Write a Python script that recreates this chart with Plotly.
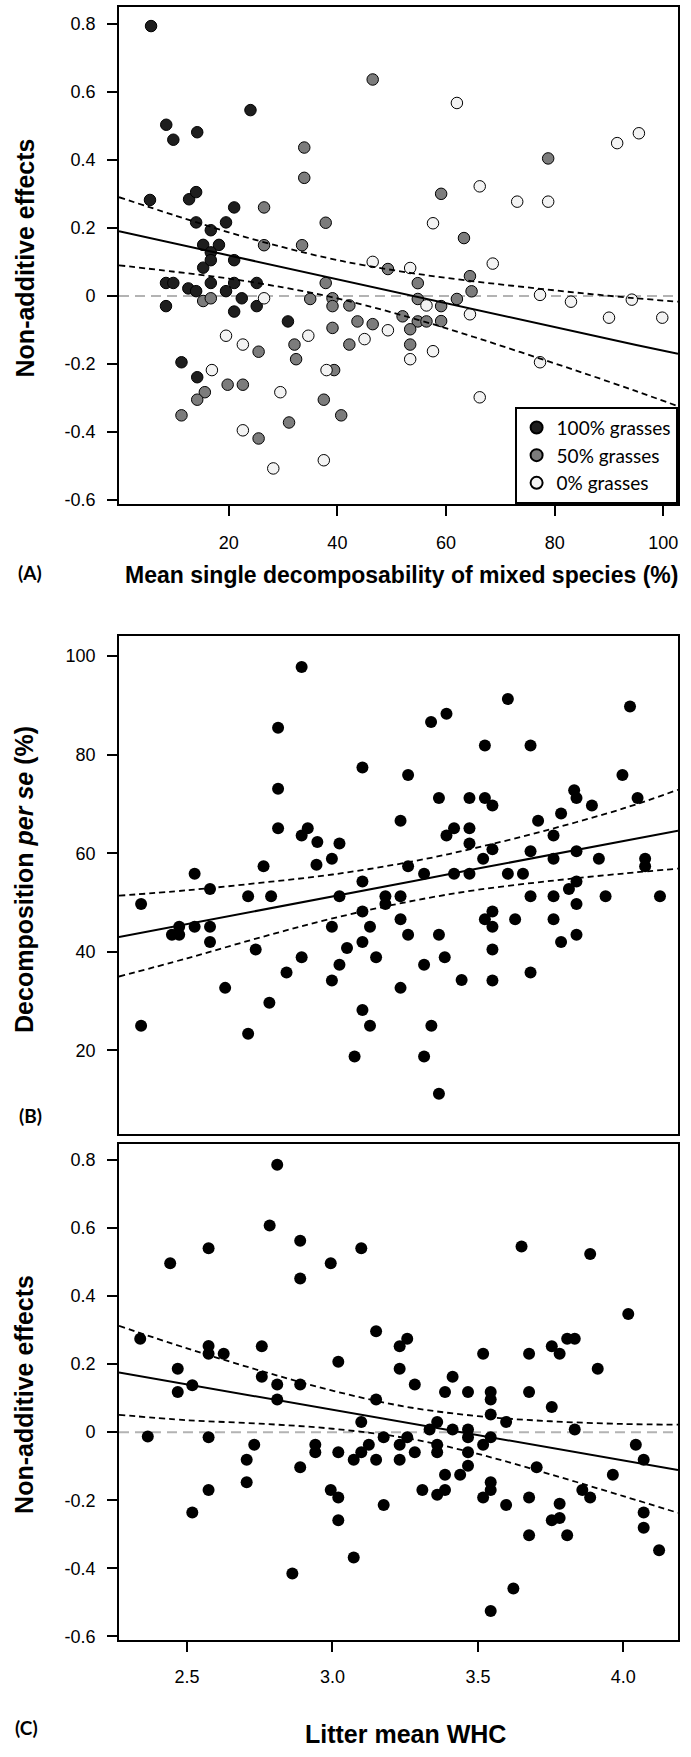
import plotly.graph_objects as go

W, H = 691, 1757

# ---------------- Panel A data ----------------
a100_x = [5.7, 5.5, 8.5, 9.8, 14.2, 24.0, 8.45, 9.8, 8.45, 12.7, 14.0, 14.0, 12.56, 14.0, 15.3, 15.3,
          16.7, 18.2, 16.7, 16.7, 16.7, 19.5, 21.0, 21.0, 21.0, 19.5, 22.4, 21.0, 25.15, 25.15, 30.9,
          11.3, 14.2]
a100_y = [0.793, 0.282, 0.503, 0.459, 0.481, 0.546, 0.038, 0.038, -0.03, 0.284, 0.305, 0.216, 0.022,
          0.014, 0.15, 0.083, 0.193, 0.15, 0.128, 0.105, 0.038, 0.216, 0.26, 0.105, 0.038, 0.014,
          -0.007, -0.046, 0.038, -0.03, -0.075, -0.195, -0.239]

a50_x = [46.5, 33.9, 33.9, 26.5, 26.5, 33.5, 37.85, 59.1, 78.8, 63.3, 64.4, 64.7, 62.0, 59.1, 59.1,
         54.8, 54.8, 54.8, 56.4, 52.0, 53.4, 53.4, 49.3, 46.5, 43.7, 42.2, 42.2, 39.1, 39.1, 39.1,
         37.85, 35.0, 32.1, 32.4, 39.4, 37.5, 40.7, 31.1, 25.5, 25.5, 19.8, 22.6, 15.6, 14.2, 11.3,
         15.3, 16.7]
a50_y = [0.636, 0.436, 0.347, 0.26, 0.149, 0.149, 0.215, 0.30, 0.404, 0.17, 0.058, 0.0135, -0.009,
         -0.030, -0.074, 0.0375, -0.009, -0.075, -0.075, -0.060, -0.098, -0.143, 0.079, -0.083,
         -0.075, -0.028, -0.143, -0.007, -0.03, -0.094, 0.038, -0.009, -0.143, -0.186, -0.218,
         -0.305, -0.351, -0.372, -0.419, -0.164, -0.261, -0.261, -0.283, -0.305, -0.351, -0.015,
         -0.007]

a0_x = [62.0, 95.5, 91.5, 66.2, 73.1, 78.8, 57.6, 46.5, 53.4, 68.6, 77.3, 83.0, 94.2, 90.0, 99.8,
        64.4, 56.4, 49.3, 45.0, 57.6, 53.4, 77.3, 66.2, 26.5, 19.5, 22.6, 34.65, 16.9, 38.0, 29.5,
        22.6, 37.5, 28.2]
a0_y = [0.567, 0.478, 0.449, 0.322, 0.277, 0.277, 0.2135, 0.100, 0.082, 0.095, 0.003, -0.017, -0.011,
        -0.064, -0.064, -0.054, -0.028, -0.101, -0.127, -0.1625, -0.186, -0.195, -0.298, -0.007,
        -0.117, -0.143, -0.117, -0.218, -0.218, -0.283, -0.395, -0.483, -0.507]

a_fit_x = [-0.2, 10, 20, 30, 38, 45, 55, 65, 75, 85, 95, 102.7]
a_fit = [0.190, 0.154, 0.119, 0.084, 0.056, 0.032, -0.004, -0.039, -0.074, -0.109, -0.144, -0.170]
a_upper = [0.290, 0.237, 0.187, 0.143, 0.112, 0.090, 0.064, 0.043, 0.025, 0.008, -0.007, -0.017]
a_lower = [0.090, 0.071, 0.051, 0.025, 0.000, -0.027, -0.071, -0.120, -0.172, -0.225, -0.280, -0.324]

# ---------------- Panel B data ----------------
b_x = [2.342, 2.448, 2.473, 2.473, 2.526, 2.526, 2.579, 2.579, 2.579, 2.631, 2.710, 2.736, 2.763,
       2.789, 2.783, 2.813, 2.813, 2.813, 2.842, 2.894, 2.894, 2.915, 2.894, 2.948, 2.945, 2.998,
       2.998, 2.998, 3.024, 3.024, 3.024, 3.050, 3.103, 3.103, 3.103, 3.103, 3.129, 3.150, 3.103,
       3.182, 3.182, 3.234, 3.234, 3.234, 3.234, 3.260, 3.260, 3.260, 3.315, 3.315, 3.339, 3.366,
       3.366, 3.392, 3.392, 3.418, 3.418, 3.386, 3.444, 3.471, 3.471, 3.471, 3.471, 3.518, 3.524,
       3.524, 3.550, 3.550, 3.524, 3.550, 3.550, 3.550, 3.550, 3.603, 3.603, 3.628, 3.655, 3.681,
       3.681, 3.681, 3.681, 3.707, 3.760, 3.760, 3.760, 3.760, 3.786, 3.786, 3.813, 3.831, 3.839,
       3.839, 3.839, 3.839, 3.839, 3.892, 3.916, 3.939, 3.997, 4.023, 4.049, 4.075, 4.075, 4.126,
       2.342, 2.710, 3.129, 3.340, 3.076, 3.315, 3.366]
b_y = [49.7, 43.5, 45.1, 43.5, 55.85, 45.1, 52.75, 45.1, 42.0, 32.7, 51.3, 40.5, 57.4, 51.3, 29.7,
       85.5, 73.1, 65.1, 35.8, 97.8, 63.6, 65.1, 38.9, 62.3, 57.7, 58.9, 45.1, 34.2, 62.0, 51.3,
       37.4, 40.8, 77.4, 54.3, 48.2, 42.0, 45.1, 38.9, 28.2, 51.3, 49.7, 66.6, 51.3, 46.6, 32.7,
       75.9, 57.4, 43.5, 55.85, 37.4, 86.65, 71.2, 43.5, 88.3, 63.6, 65.1, 55.85, 38.9, 34.3, 71.2,
       65.1, 62.0, 55.85, 58.9, 81.9, 71.2, 69.7, 60.8, 46.6, 48.2, 45.1, 40.5, 34.2, 91.3, 55.85,
       46.6, 55.85, 81.9, 60.4, 51.3, 35.8, 66.6, 63.6, 58.9, 51.3, 46.6, 68.1, 42.0, 52.75, 72.8,
       71.2, 60.4, 54.3, 49.7, 43.5, 69.7, 58.9, 51.3, 75.9, 89.8, 71.2, 58.9, 57.4, 51.3,
       25.0, 23.4, 25.0, 25.0, 18.8, 18.8, 11.2]

b_fit_x = [2.266, 2.5, 2.75, 3.0, 3.28, 3.5, 3.75, 4.0, 4.188]
b_fit = [43.0, 45.6, 48.4, 51.3, 54.4, 56.9, 59.7, 62.5, 64.6]
b_upper = [51.4, 52.5, 54.0, 55.7, 58.4, 61.2, 64.9, 69.1, 72.9]
b_lower = [35.0, 38.7, 42.9, 46.8, 50.4, 52.6, 54.4, 55.9, 56.9]

# ---------------- Panel C data ----------------
c_x = [2.339, 2.365, 2.442, 2.468, 2.468, 2.518, 2.518, 2.574, 2.574, 2.574, 2.574, 2.574, 2.626,
       2.705, 2.705, 2.731, 2.757, 2.757, 2.784, 2.810, 2.810, 2.810, 2.862, 2.889, 2.889, 2.889,
       2.889, 2.941, 2.941, 2.994, 2.994, 3.020, 3.020, 3.020, 3.020, 3.073, 3.073, 3.099, 3.099,
       3.099, 3.125, 3.150, 3.150, 3.150, 3.176, 3.176, 3.231, 3.231, 3.231, 3.231, 3.257, 3.257,
       3.283, 3.283, 3.309, 3.334, 3.360, 3.360, 3.360, 3.360, 3.387, 3.387, 3.387, 3.413, 3.413,
       3.439, 3.466, 3.466, 3.466, 3.466, 3.466, 3.518, 3.518, 3.518, 3.544, 3.544, 3.544, 3.544,
       3.544, 3.544, 3.544, 3.597, 3.597, 3.622, 3.650, 3.676, 3.676, 3.676, 3.676, 3.702, 3.754,
       3.754, 3.754, 3.781, 3.781, 3.781, 3.807, 3.807, 3.833, 3.833, 3.859, 3.886, 3.886, 3.912,
       3.964, 4.017, 4.043, 4.070, 4.070, 4.070, 4.123]
c_y = [0.274, -0.013, 0.496, 0.186, 0.118, 0.138, -0.236, 0.540, 0.253, 0.230, -0.015, -0.170, 0.230,
       -0.081, -0.147, -0.037, 0.252, 0.163, 0.607, 0.785, 0.140, 0.096, -0.415, 0.562, 0.451, 0.140,
       -0.103, -0.037, -0.059, 0.496, -0.170, 0.207, -0.059, -0.192, -0.259, -0.081, -0.368, 0.540,
       0.030, -0.059, -0.037, 0.296, 0.096, -0.081, -0.015, -0.214, 0.252, 0.186, -0.037, -0.081,
       0.274, -0.015, 0.140, -0.059, -0.170, 0.008, 0.030, -0.037, -0.059, -0.184, 0.118, -0.125,
       -0.170, 0.163, 0.008, -0.125, 0.118, 0.008, -0.015, -0.059, -0.099, 0.230, -0.037, -0.192,
       0.118, 0.096, 0.052, -0.015, -0.147, -0.170, -0.525, 0.030, -0.214, -0.459, 0.545, 0.230,
       0.118, -0.192, -0.303, -0.103, 0.252, 0.074, -0.259, 0.230, -0.210, -0.252, 0.274, -0.303,
       0.274, 0.008, -0.170, 0.523, -0.192, 0.186, -0.125, 0.347, -0.037, -0.081, -0.236, -0.281,
       -0.347]

c_fit_x = [2.266, 2.5, 2.75, 3.0, 3.25, 3.5, 3.75, 4.0, 4.188]
c_fit = [0.175, 0.140, 0.103, 0.066, 0.029, -0.009, -0.046, -0.083, -0.111]
c_upper = [0.312, 0.246, 0.181, 0.122, 0.075, 0.047, 0.032, 0.024, 0.022]
c_lower = [0.051, 0.035, 0.025, 0.010, -0.017, -0.064, -0.124, -0.188, -0.237]

# ---------------- Tick labels ----------------
nae_tickvals = [-0.6, -0.4, -0.2, 0, 0.2, 0.4, 0.6, 0.8]
nae_ticktext = ["-0.6", "-0.4", "-0.2", "0", "0.2", "0.4", "0.6", "0.8"]
a_xtickvals = [20, 40, 60, 80, 100]
b_ytickvals = [20, 40, 60, 80, 100]
c_xtickvals = [2.5, 3.0, 3.5, 4.0]
c_xticktext = ["2.5", "3.0", "3.5", "4.0"]

# ---------------- Figure ----------------
fig = go.Figure()

def px_x(p):
    return p / W

def px_y(p):
    return 1 - p / H

groups = [
    ("100% grasses", a100_x, a100_y, "#1e1e1e"),
    ("50% grasses", a50_x, a50_y, "#7c7c7c"),
    ("0% grasses", a0_x, a0_y, "#f3f3f3"),
]
for name, gx, gy, col in groups:
    fig.add_trace(go.Scatter(
        x=gx, y=gy, mode="markers", name=name, xaxis="x", yaxis="y",
        marker=dict(size=11.5, color=col, line=dict(color="black", width=1)),
    ))

def add_fit(fx, fy, fu, fl, xa, ya):
    fig.add_trace(go.Scatter(x=fx, y=fu, mode="lines", xaxis=xa, yaxis=ya, showlegend=False,
                             line=dict(color="black", width=1.8, dash="6px,4px", shape="spline")))
    fig.add_trace(go.Scatter(x=fx, y=fl, mode="lines", xaxis=xa, yaxis=ya, showlegend=False,
                             line=dict(color="black", width=1.8, dash="6px,4px", shape="spline")))
    fig.add_trace(go.Scatter(x=fx, y=fy, mode="lines", xaxis=xa, yaxis=ya, showlegend=False,
                             line=dict(color="black", width=2)))

add_fit(a_fit_x, a_fit, a_upper, a_lower, "x", "y")

fig.add_trace(go.Scatter(x=b_x, y=b_y, mode="markers", xaxis="x2", yaxis="y2", showlegend=False,
                         marker=dict(size=12, color="black")))
add_fit(b_fit_x, b_fit, b_upper, b_lower, "x2", "y2")

fig.add_trace(go.Scatter(x=c_x, y=c_y, mode="markers", xaxis="x3", yaxis="y3", showlegend=False,
                         marker=dict(size=12, color="black")))
add_fit(c_fit_x, c_fit, c_upper, c_lower, "x3", "y3")

tick_font = dict(family="Liberation Sans, Arial, sans-serif", size=18, color="black")
axis_common = dict(showline=True, linecolor="black", linewidth=1.6, mirror=True,
                   ticks="outside", ticklen=10, tickwidth=1.6, tickcolor="black",
                   showgrid=False, zeroline=False, tickfont=tick_font)

xdom = [px_x(119), px_x(678)]

fig.update_layout(
    width=W, height=H, autosize=False,
    margin=dict(l=0, r=0, t=0, b=0),
    paper_bgcolor="white", plot_bgcolor="white",
    xaxis=dict(domain=xdom, range=[-0.2, 102.7], anchor="y", tickvals=a_xtickvals,
               ticklabelstandoff=12, **axis_common),
    yaxis=dict(domain=[px_y(506), px_y(6.7)], range=[-0.6115, 0.85], anchor="x",
               tickvals=nae_tickvals, ticktext=nae_ticktext, ticklabelstandoff=8, **axis_common),
    xaxis2=dict(domain=xdom, range=[2.266, 4.188], anchor="y2", showline=True, linecolor="black",
                linewidth=1.6, mirror=True, ticks="", showticklabels=False, showgrid=False,
                zeroline=False),
    yaxis2=dict(domain=[px_y(1138.3), px_y(639)], range=[3.1, 104.0], anchor="x2",
                tickvals=b_ytickvals, ticklabelstandoff=8, **axis_common),
    xaxis3=dict(domain=xdom, range=[2.266, 4.188], anchor="y3", tickvals=c_xtickvals,
                ticktext=c_xticktext, ticklabelstandoff=10, **axis_common),
    yaxis3=dict(domain=[px_y(1646.4), px_y(1149)], range=[-0.61, 0.845], anchor="x3",
                tickvals=nae_tickvals, ticktext=nae_ticktext, ticklabelstandoff=8, **axis_common),
    legend=dict(x=px_x(678), xanchor="right", y=px_y(506), yanchor="bottom",
                bgcolor="white", bordercolor="black", borderwidth=1.6,
                font=dict(family="Lato, Noto Sans, sans-serif", size=19, color="black"),
                tracegroupgap=0, itemsizing="constant"),
    showlegend=True,
)

# zero reference lines
for yref in ["y", "y3"]:
    xref = "x domain" if yref == "y" else "x3 domain"
    fig.add_shape(type="line", xref=xref, yref=yref, x0=0, x1=1, y0=0, y1=0,
                  line=dict(color="#b3b3b3", width=2, dash="10px,6px"), layer="below")

title_font = dict(family="Liberation Sans, Arial, sans-serif", color="black")
label_font = dict(family="Lato, Noto Sans, sans-serif", size=19, color="black")

def ann(text, xp, yp, font, angle=0):
    fig.add_annotation(text=text, x=px_x(xp), y=px_y(yp), xref="paper", yref="paper",
                       showarrow=False, xanchor="center", yanchor="middle",
                       textangle=angle, font=font)

ann("<b>(A)</b>", 30, 575, label_font)
ann("<b>(B)</b>", 30, 1120, label_font)
ann("<b>(C)</b>", 27, 1734, label_font)
ann("<b>Mean single decomposability of mixed species (%)</b>", 402, 577, dict(size=23, **title_font))
ann("<b>Litter mean WHC</b>", 405, 1741, dict(size=25, **title_font))
ann("<b>Non-additive effects</b>", 24.5, 259, dict(size=25, **title_font), -90)
ann("<b>Decomposition <i>per se</i> (%)</b>", 24.5, 883, dict(size=25, **title_font), -90)
ann("<b>Non-additive effects</b>", 24.5, 1400, dict(size=25, **title_font), -90)

fig.write_html(
    "out.html",
    config={"displayModeBar": False},
    post_script="document.body.style.margin='0';document.body.style.padding='0';"
                "document.documentElement.style.overflow='hidden';",
)
